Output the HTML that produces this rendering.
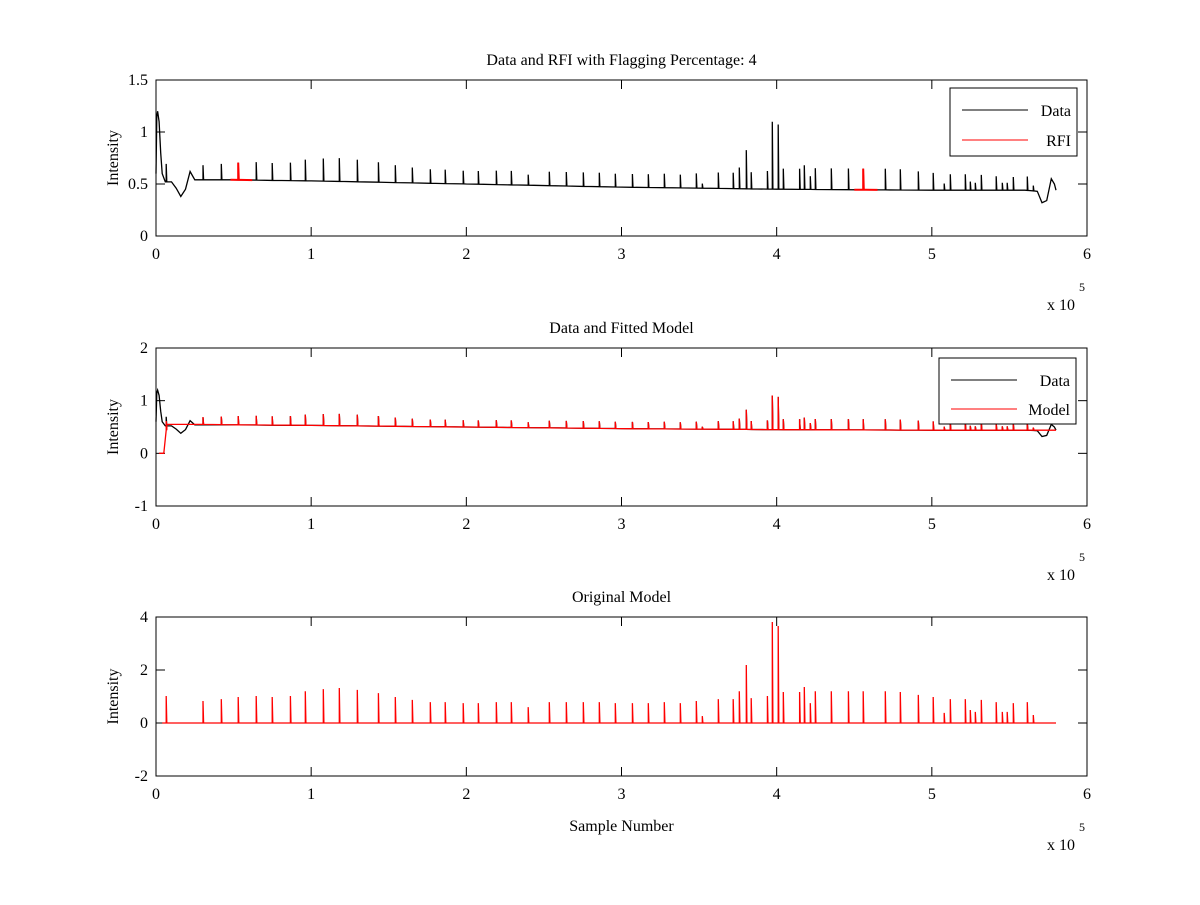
<!DOCTYPE html>
<html><head><meta charset="utf-8"><style>
body{margin:0;background:#fff}
svg text{font-family:"Liberation Serif",serif;font-size:16px;fill:#000}
</style></head><body>
<svg id="fig" width="1200" height="900" xmlns="http://www.w3.org/2000/svg"></svg>
<script>
// ---- data (x in units of 1e5 samples) ----
const spikeX=[0.066,0.303,0.421,0.530,0.646,0.749,0.866,0.962,1.078,1.181,1.297,1.433,1.542,1.652,1.768,1.864,1.980,2.077,2.193,2.290,2.399,2.535,2.644,2.754,2.857,2.960,3.070,3.173,3.276,3.379,3.482,3.521,3.624,3.720,3.759,3.804,3.836,3.940,3.972,4.010,4.043,4.148,4.178,4.217,4.249,4.352,4.462,4.558,4.700,4.797,4.913,5.009,5.080,5.119,5.216,5.248,5.280,5.319,5.415,5.454,5.486,5.525,5.615,5.654];
const modelSpikeY=[1.02,0.83,0.9,0.98,1.02,0.98,1.02,1.2,1.28,1.32,1.25,1.13,0.98,0.87,0.79,0.79,0.75,0.75,0.79,0.79,0.6,0.79,0.79,0.79,0.79,0.75,0.75,0.75,0.79,0.75,0.83,0.26,0.9,0.9,1.2,2.19,0.94,1.02,3.81,3.66,1.17,1.17,1.36,0.75,1.2,1.2,1.2,1.2,1.2,1.17,1.06,0.98,0.38,0.9,0.9,0.49,0.42,0.87,0.79,0.42,0.42,0.75,0.79,0.3];
const dataBaseX=[0,0.005,0.01,0.02,0.03,0.04,0.06,0.1,0.13,0.16,0.19,0.22,0.25,0.5,1,2,3,4,5,5.6,5.68,5.71,5.74,5.77,5.79,5.8];
const dataBaseY=[0.6,1.15,1.2,1.1,0.8,0.6,0.52,0.52,0.46,0.38,0.45,0.62,0.54,0.54,0.53,0.5,0.47,0.45,0.44,0.44,0.43,0.32,0.34,0.55,0.5,0.44];
const modelBaseX=[0.02,0.05,0.07,0.25,1,2,3,4,5,5.8];
const modelBaseY=[0,0,0.55,0.55,0.53,0.5,0.47,0.45,0.44,0.44];
const dataSpikeScale=[0.17];
const rfiSegX=[[0.48,0.62],[4.5,4.65]];
const xTicks=[0,1,2,3,4,5,6];
const yTicks1=[0,0.5,1,1.5];
const yTicks2=[-1,0,1,2];
const yTicks3=[-2,0,2,4];

const NS="http://www.w3.org/2000/svg";
const svg=document.getElementById('fig');
function mk(tag,attrs,parent){const e=document.createElementNS(NS,tag);for(const k in attrs)e.setAttribute(k,attrs[k]);(parent||svg).appendChild(e);return e;}
function interp(xs,ys,x){if(x<=xs[0])return ys[0];for(let i=1;i<xs.length;i++){if(x<=xs[i]){const t=(x-xs[i-1])/(xs[i]-xs[i-1]);return ys[i-1]+t*(ys[i]-ys[i-1]);}}return ys[ys.length-1];}

function axes(name,top,bot,ymin,ymax,yticks,title,showXlabel){
  const L=156,R=1087;
  const g=mk('g',{});
  
  
  const sx=v=>L+(v-0)/6*(R-L);
  const sy=v=>bot-(v-ymin)/(ymax-ymin)*(bot-top);
  mk('rect',{x:L,y:top,width:R-L,height:bot-top,fill:'#fff',stroke:'none'},g);
  const tk=mk('g',{stroke:'#000','stroke-width':1},g);
  
  
  xTicks.forEach(v=>{const x=sx(v);
    mk('line',{x1:x,y1:bot,x2:x,y2:bot-9},tk);mk('line',{x1:x,y1:top,x2:x,y2:top+9},tk);
    const t=mk('text',{x:x,y:bot+23,'text-anchor':'middle'},g);t.textContent=v;
    
    });
  yticks.forEach(v=>{const y=sy(v);
    mk('line',{x1:L,y1:y,x2:L+9,y2:y},tk);mk('line',{x1:R,y1:y,x2:R-9,y2:y},tk);
    const t=mk('text',{x:L-8,y:y+5,'text-anchor':'end'},g);t.textContent=v;
    
    });
  const tt=mk('text',{x:(L+R)/2,y:top-15,'text-anchor':'middle'},g);tt.textContent=title;
  
  
  const yl=mk('text',{x:0,y:0,'text-anchor':'middle',transform:`translate(${L-38},${(top+bot)/2}) rotate(-90)`},g);yl.textContent='Intensity';
  
  
  const ex=mk('text',{x:1047,y:bot+74},g);ex.textContent='x 10';
  
  
  const e5=mk('text',{x:1079,y:bot+55},g);e5.textContent='5';e5.style.fontSize='12px';
  
  
  if(showXlabel){const xl=mk('text',{x:(L+R)/2,y:bot+55,'text-anchor':'middle'},g);xl.textContent='Sample Number';
    
    }
  return {g,sx,sy,top,bot,L,R};
}
function seriesPath(ax,bx,by,spikes,color,name,width){
  let pts=bx.map((x,i)=>[x,by[i],null]);
  spikes.forEach(s=>{if(s[0]>=bx[0]&&s[0]<=bx[bx.length-1])pts.push([s[0],null,s[1]]);});
  pts.sort((a,b)=>a[0]-b[0]);
  let d='';
  pts.forEach((p,i)=>{
    const X=ax.sx(p[0]);
    if(p[2]===null){d+=(i?'L':'M')+X.toFixed(1)+' '+ax.sy(p[1]).toFixed(1);}
    else{const b=ax.sy(interp(bx,by,p[0]));d+=(i?'L':'M')+X.toFixed(1)+' '+b.toFixed(1)+'L'+X.toFixed(1)+' '+ax.sy(p[2]).toFixed(1)+'L'+(X+0.6).toFixed(1)+' '+b.toFixed(1);}
  });
  const p=mk('path',{d:d,fill:'none',stroke:color,'stroke-width':width||1.3,'stroke-linejoin':'miter'},ax.g);
  
  
  return p;
}
function frame(ax){const r=mk('rect',{x:ax.L,y:ax.top,width:ax.R-ax.L,height:ax.bot-ax.top,fill:'none',stroke:'#000','stroke-width':1},ax.g);
  
  }
function legend(ax,x,y,w,h,items,off,step){
  const g=mk('g',{},ax.g);
  
  
  mk('rect',{x:x,y:y,width:w,height:h,fill:'#fff',stroke:'#000'},g);
  items.forEach((it,i)=>{const cy=y+off+step*i;
    const e=mk('g',{},g);
    
    
    mk('line',{x1:x+12,y1:cy,x2:x+78,y2:cy,stroke:it[1],'stroke-width':1},e);
    const t=mk('text',{x:x+w-6,y:cy+6,'text-anchor':'end'},e);t.textContent=it[0];});
}
const dataSpikes1=spikeX.map((x,i)=>[x,interp(dataBaseX,dataBaseY,x)+modelSpikeY[i]*dataSpikeScale[0]]);

// Plot 1
const a1=axes('plot-data-rfi',80,236,0,1.5,yTicks1,'Data and RFI with Flagging Percentage: 4',false);
seriesPath(a1,dataBaseX,dataBaseY,dataSpikes1,'#000','data-line',1.3);
rfiSegX.forEach(seg=>{
  const xs=[seg[0],(seg[0]+seg[1])/2,seg[1]];
  const sp=dataSpikes1.filter(s=>s[0]>=seg[0]&&s[0]<=seg[1]);
  seriesPath(a1,xs,xs.map(x=>interp(dataBaseX,dataBaseY,x)),sp,'#f00','rfi-segment',2);
});
frame(a1);
legend(a1,950,88,127,68,[['Data','#000'],['RFI','#f00']],22,30);

// Plot 2
const a2=axes('plot-data-model',348,506,-1,2,yTicks2,'Data and Fitted Model',false);
seriesPath(a2,dataBaseX,dataBaseY,dataSpikes1,'#000','data-line',1.3);
const modelSpikes2=spikeX.map((x,i)=>[x,interp(modelBaseX,modelBaseY,x)+modelSpikeY[i]*dataSpikeScale[0]]);
seriesPath(a2,modelBaseX,modelBaseY,modelSpikes2,'#f00','model-line',1.3);
frame(a2);
legend(a2,939,358,137,66,[['Data','#000'],['Model','#f00']],22,29);

// Plot 3
const a3=axes('plot-original-model',617,776,-2,4,yTicks3,'Original Model',true);
const m3x=[0.04,5.8],m3y=[0,0];
seriesPath(a3,m3x,m3y,spikeX.map((x,i)=>[x,modelSpikeY[i]]),'#f00','original-model-line',1.3);
frame(a3);
</script>
</body></html>
